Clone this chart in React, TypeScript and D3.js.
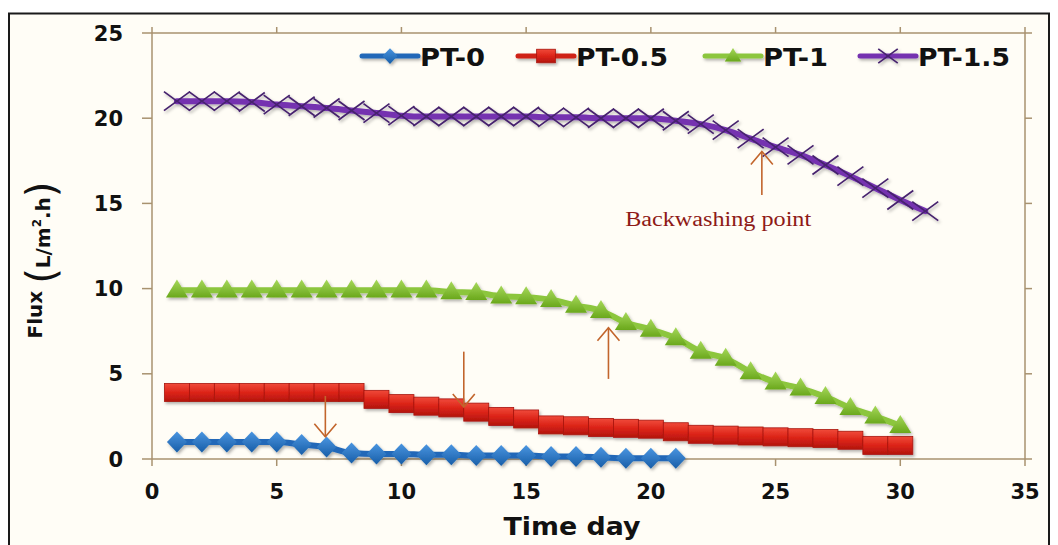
import React from 'react';
import * as d3 from 'd3';

const DAYS_0 = [1,2,3,4,5,6,7,8,9,10,11,12,13,14,15,16,17,18,19,20,21];
const PT_0 = [1.0,1.0,1.0,1.0,1.0,0.85,0.7,0.35,0.3,0.3,0.25,0.25,0.2,0.2,0.2,0.15,0.15,0.1,0.05,0.05,0.05];

const DAYS_05 = [1,2,3,4,5,6,7,8,9,10,11,12,13,14,15,16,17,18,19,20,21,22,23,24,25,26,27,28,29,30];
const PT_05 = [3.9,3.9,3.9,3.9,3.9,3.9,3.9,3.9,3.5,3.25,3.1,3.0,2.75,2.5,2.35,2.0,1.95,1.85,1.8,1.75,1.6,1.45,1.4,1.35,1.3,1.25,1.2,1.1,0.8,0.8];

const DAYS_1 = [1,2,3,4,5,6,7,8,9,10,11,12,13,14,15,16,17,18,19,20,21,22,23,24,25,26,27,28,29,30];
const PT_1 = [9.9,9.9,9.9,9.9,9.9,9.9,9.9,9.9,9.9,9.9,9.9,9.8,9.75,9.55,9.5,9.35,9.0,8.7,8.0,7.6,7.1,6.3,5.9,5.1,4.5,4.15,3.65,3.0,2.5,1.95];

const DAYS_15 = [1,2,3,4,5,6,7,8,9,10,11,12,13,14,15,16,17,18,19,20,21,22,23,24,25,26,27,28,29,30,31];
const PT_15 = [21.0,21.0,21.0,20.95,20.8,20.7,20.6,20.45,20.3,20.15,20.1,20.1,20.1,20.1,20.1,20.05,20.05,20.0,20.0,20.0,19.85,19.65,19.3,18.8,18.3,17.85,17.25,16.6,15.9,15.2,14.55];

const SERIES_NAMES = ['PT-0', 'PT-0.5', 'PT-1', 'PT-1.5'];
const X_TICKS = [0,5,10,15,20,25,30,35];
const Y_TICKS = [0,5,10,15,20,25];

// annotation arrows in data units: [day, fromValue, toValue]
const ARROWS = [
  [6.95, 3.7, 1.3],
  [12.5, 6.3, 3.05],
  [18.3, 4.7, 7.7],
  [24.45, 15.5, 18.05],
];
const NOTE = { day: 22.7, value: 13.7, text: 'Backwashing point' };

const W = 1058, H = 545;
const x = d3.scaleLinear().domain([0, 35]).range([152, 1025]);
const y = d3.scaleLinear().domain([0, 25]).range([459, 33]);

const AXIS = '#a8926f';
const FONT = '"DejaVu Sans", Verdana, sans-serif';

function pts(days: number[], vals: number[]) {
  return days.map((d, i) => [x(d), y(vals[i])] as [number, number]);
}

const lineGen = d3.line<[number, number]>().x(d => d[0]).y(d => d[1]).curve(d3.curveMonotoneX);

function diamond(cx: number, cy: number, w: number, h: number) {
  return `M${cx},${cy - h / 2}L${cx + w / 2},${cy}L${cx},${cy + h / 2}L${cx - w / 2},${cy}Z`;
}
function tri(cx: number, cy: number, w: number, h: number) {
  return `M${cx},${cy - h * 0.6}L${cx + w / 2},${cy + h * 0.4}L${cx - w / 2},${cy + h * 0.4}Z`;
}
function cross(cx: number, cy: number, w: number, h: number) {
  return `M${cx - w / 2},${cy - h / 2}L${cx + w / 2},${cy + h / 2}M${cx - w / 2},${cy + h / 2}L${cx + w / 2},${cy - h / 2}`;
}

function Marker({ kind, cx, cy, legend }: { kind: number; cx: number; cy: number; legend?: boolean }) {
  const s = legend ? 0.75 : 1;
  if (kind === 0) return <path d={diamond(cx, cy, 20 * s, 21 * s)} fill="url(#gBlue)" />;
  if (kind === 1) return <rect x={cx - 12.5 * s} y={cy - 9 * s} width={25 * s} height={18 * s} fill="url(#gRed)" stroke="#a8140e" strokeWidth={0.8} />;
  if (kind === 2) return <path d={tri(cx, cy, 22 * s, 18 * s)} fill="url(#gGreen)" />;
  return <path d={cross(cx, cy, 26 * s, 19 * s)} stroke="#46226e" strokeWidth={1.7} fill="none" />;
}

const SERIES = [
  { days: DAYS_0, vals: PT_0, color: '#2168b8', width: 6 },
  { days: DAYS_05, vals: PT_05, color: '#cf2118', width: 6 },
  { days: DAYS_1, vals: PT_1, color: '#8cc63e', width: 6 },
  { days: DAYS_15, vals: PT_15, color: '#7432b0', width: 6 },
];

const LEGEND_X = [362, 518, 705, 860];
const LEGEND_TEXT_W = [65, 92, 65, 92];

export default function App() {
  const arrowColor = '#c2652c';
  return (
    <div style={{ position: 'absolute', left: 0, top: 0 }}>
      <svg width={W} height={H} style={{ display: 'block' }}>
        <defs>
          <linearGradient id="gBlue" x1="0" y1="0" x2="0" y2="1">
            <stop offset="0" stopColor="#4a95e0" />
            <stop offset="1" stopColor="#185ea8" />
          </linearGradient>
          <linearGradient id="gRed" x1="0" y1="0" x2="0" y2="1">
            <stop offset="0" stopColor="#f04a3a" />
            <stop offset="0.5" stopColor="#dc2418" />
            <stop offset="1" stopColor="#b3150e" />
          </linearGradient>
          <linearGradient id="gGreen" x1="0" y1="0" x2="0" y2="1">
            <stop offset="0" stopColor="#a6d85a" />
            <stop offset="1" stopColor="#6aa81c" />
          </linearGradient>
          <filter id="shadow" x="-10%" y="-30%" width="120%" height="160%">
            <feDropShadow dx="1.5" dy="2" stdDeviation="1.5" floodColor="#000" floodOpacity="0.3" />
          </filter>
        </defs>
        <rect x={0} y={0} width={W} height={H} fill="#ffffff" />
        <rect x={9} y={13.5} width={1040} height={540} fill="#fffdf6" stroke="#1a1a1a" strokeWidth={2} />

        {/* axes */}
        <g stroke={AXIS} strokeWidth={1.5} fill="none">
          <line x1={x(0)} x2={x(35)} y1={y(0)} y2={y(0)} />
          <line x1={x(0)} x2={x(35)} y1={y(25)} y2={y(25)} />
          <line x1={x(0)} x2={x(0)} y1={y(0)} y2={y(25)} />
          <line x1={x(35)} x2={x(35)} y1={y(0)} y2={y(25)} />
          {X_TICKS.map(t => (
            <g key={'xt' + t}>
              <line x1={x(t)} x2={x(t)} y1={y(0)} y2={y(0) + 7} />
              <line x1={x(t)} x2={x(t)} y1={y(25)} y2={y(25) - 6} />
            </g>
          ))}
          {Y_TICKS.map(t => (
            <g key={'yt' + t}>
              <line x1={x(0) - 10} x2={x(0)} y1={y(t)} y2={y(t)} />
              <line x1={x(35)} x2={x(35) + 7} y1={y(t)} y2={y(t)} />
            </g>
          ))}
        </g>
        <g fontFamily={FONT} fontWeight="bold" fontSize={21} fill="#111">
          {Y_TICKS.map(t => (
            <text key={'yl' + t} x={x(0) - 29} y={y(t)} dy="0.36em" textAnchor="end">{t}</text>
          ))}
          {X_TICKS.map(t => (
            <text key={'xl' + t} x={x(t)} y={y(0) + 32} dy="0.36em" textAnchor="middle">{t}</text>
          ))}
        </g>

        {/* axis titles */}
        <text x={572} y={535} fontFamily={FONT} fontWeight="bold" fontSize={24} fill="#111" textAnchor="middle" textLength={137} lengthAdjust="spacingAndGlyphs">Time day</text>
        <text transform="translate(42,260) rotate(-90)" fontFamily={FONT} fontWeight="bold" fontSize={20} fill="#111" textAnchor="middle">
          <tspan>Flux </tspan>
          <tspan fontSize={40} fontWeight="normal" dy="13">(</tspan>
          <tspan dy="-5">L/m</tspan>
          <tspan fontSize={12} dy="-9">2</tspan>
          <tspan dy="9">.h</tspan>
          <tspan fontSize={40} fontWeight="normal" dy="5">)</tspan>
        </text>

        {/* series */}
        {SERIES.map((s, k) => {
          const p = pts(s.days, s.vals);
          return (
            <g key={'s' + k} filter="url(#shadow)">
              <path d={lineGen(p) || ''} fill="none" stroke={s.color} strokeWidth={s.width} strokeLinejoin="round" strokeLinecap="round" />
              {p.map((q, i) => <Marker key={i} kind={k} cx={q[0]} cy={q[1]} />)}
            </g>
          );
        })}

        {/* annotations */}
        <g stroke={arrowColor} strokeWidth={1.6} fill="none">
          {ARROWS.map((a, i) => {
            const ax = x(a[0]);
            const y0 = y(a[1]);
            const y1 = y(a[2]);
            const dir = y1 > y0 ? 1 : -1;
            return (
              <g key={'ar' + i}>
                <line x1={ax} x2={ax} y1={y0} y2={y1} />
                <path d={`M${ax - 11},${y1 - dir * 13}L${ax},${y1}L${ax + 11},${y1 - dir * 13}`} />
              </g>
            );
          })}
        </g>
        <text x={x(NOTE.day)} y={y(NOTE.value)} fontFamily='"Liberation Serif", "Times New Roman", serif' fontSize={20} fill="#8e1a16" textAnchor="middle" textLength={186} lengthAdjust="spacingAndGlyphs">{NOTE.text}</text>

        {/* legend */}
        {SERIES_NAMES.map((n, k) => {
          const lx = LEGEND_X[k];
          const ly = 56;
          return (
            <g key={'lg' + k}>
              <g filter="url(#shadow)">
                <line x1={lx} x2={lx + 56} y1={ly} y2={ly} stroke={SERIES[k].color} strokeWidth={5} strokeLinecap="round" />
                <Marker kind={k} cx={lx + 28} cy={ly} legend />
              </g>
              <text x={lx + 58} y={ly + 10} fontFamily={FONT} fontWeight="bold" fontSize={24} fill="#111" textLength={LEGEND_TEXT_W[k]} lengthAdjust="spacingAndGlyphs">{n}</text>
            </g>
          );
        })}
      </svg>
    </div>
  );
}
